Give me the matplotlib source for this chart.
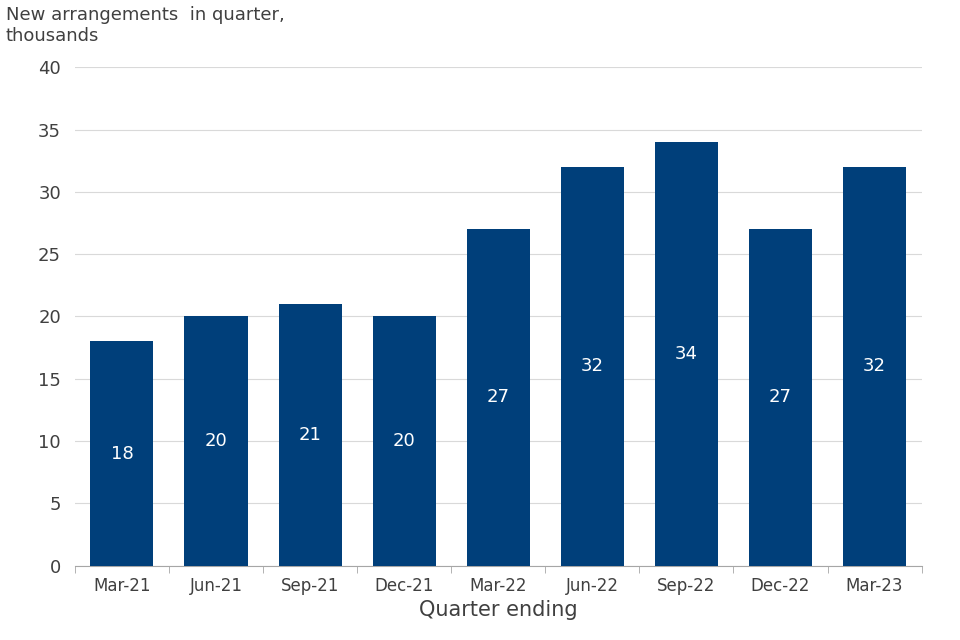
import matplotlib.pyplot as plt
import numpy as np

quarters = ['Mar-21', 'Jun-21', 'Sep-21', 'Dec-21', 'Mar-22', 'Jun-22', 'Sep-22', 'Dec-22', 'Mar-23']
arrangements = [18, 20, 21, 20, 27, 32, 34, 27, 32]

fig = plt.figure(figsize=(9.6, 6.4), dpi=100)
ax = fig.add_axes([0.078, 0.116, 0.882, 0.779])

x = np.arange(len(quarters))
ax.bar(x, arrangements, width=0.67, color='#003f7a', zorder=3)
for xi, v in zip(x, arrangements):
    ax.text(xi, v / 2, str(v), ha='center', va='center', color='white', fontsize=13, zorder=4)

ax.set_xlim(-0.5, len(quarters) - 0.5)
ax.set_ylim(0, 40)
ax.set_yticks(range(0, 41, 5))
ax.set_xticks(x)
ax.set_xticklabels(quarters)
ax.set_xticks(np.arange(-0.5, len(quarters), 1), minor=True)
ax.tick_params(axis='x', which='major', length=0, labelsize=12, labelcolor='#404040', pad=8)
ax.tick_params(axis='x', which='minor', length=5, color='#a6a6a6')
ax.tick_params(axis='y', length=0, labelsize=13, labelcolor='#404040', pad=10)
ax.grid(axis='y', color='#d9d9d9', linewidth=0.8, zorder=0)
for s in ['top', 'right', 'left']:
    ax.spines[s].set_visible(False)
ax.spines['bottom'].set_color('#a6a6a6')

ax.set_xlabel('Quarter ending', fontsize=15, color='#404040', labelpad=4)
fig.text(0.006, 0.93, 'New arrangements  in quarter,\nthousands', fontsize=13,
         color='#404040', ha='left', va='bottom', linespacing=1.2)

plt.savefig('out.png', dpi=100)
